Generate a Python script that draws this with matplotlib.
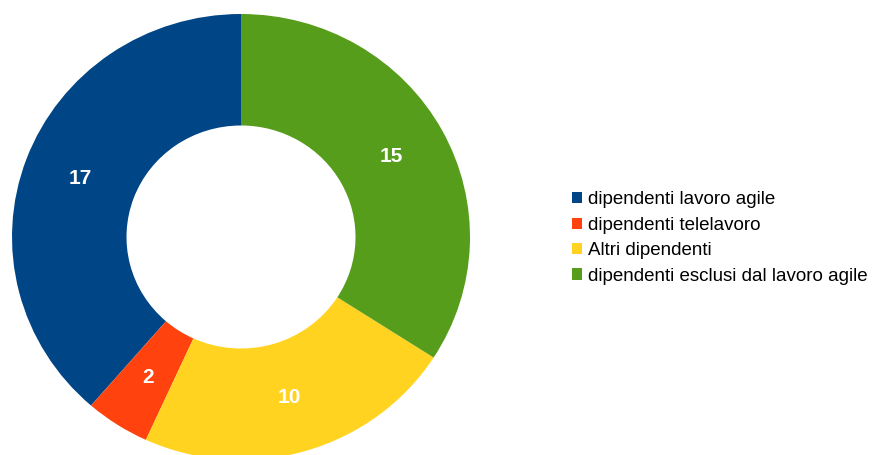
import matplotlib
matplotlib.use("Agg")
import matplotlib.pyplot as plt
import numpy as np

labels = ["dipendenti lavoro agile", "dipendenti telelavoro", "Altri dipendenti",
          "dipendenti esclusi dal lavoro agile"]
values = [17, 2, 10, 15]
colors = ["#004586", "#ff420e", "#ffd320", "#579d1c"]

plt.rcParams["font.family"] = ["Liberation Sans", "DejaVu Sans"]

W, H = 872, 455
fig = plt.figure(figsize=(W / 100, H / 100), dpi=100)
cx, cy, rx, ry = 241, 237, 229, 223
ax = fig.add_axes([(cx - rx) / W, (H - cy - ry) / H, 2 * rx / W, 2 * ry / H])

wedges, texts = ax.pie(values, colors=colors, startangle=90, counterclock=True,
                       radius=1, wedgeprops=dict(width=0.5, linewidth=0))
tot = sum(values)
ang = 90.0
for v in values:
    mid = np.deg2rad(ang + v / tot * 180.0)
    ax.text(0.75 * np.cos(mid), 0.75 * np.sin(mid), str(v), ha="center", va="center",
            color="white", fontsize=15, fontweight="bold")
    ang += v / tot * 360.0
ax.set_xlim(-1, 1)
ax.set_ylim(-1, 1)
ax.set_aspect("auto")
ax.axis("off")

fig.legend(wedges, labels, loc="center left", bbox_to_anchor=(564 / W, (H - 238) / H),
           frameon=False, fontsize=13.5, handlelength=0.55, handleheight=0.55,
           handletextpad=0.35, labelspacing=0.45, borderaxespad=0)

fig.savefig("out.png", dpi=100)
